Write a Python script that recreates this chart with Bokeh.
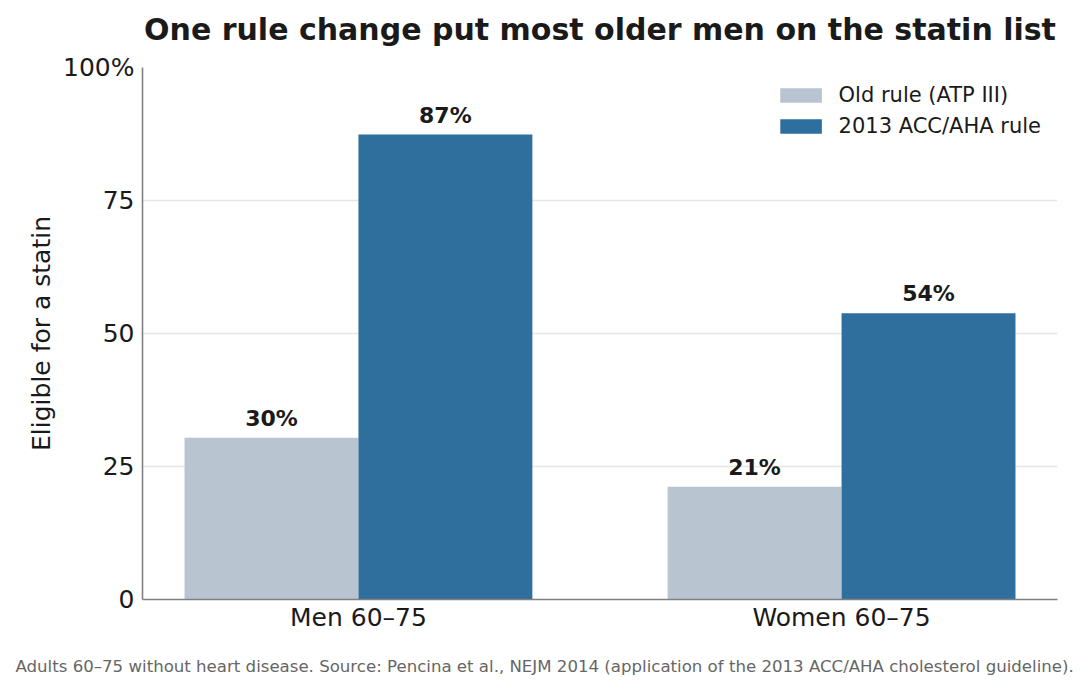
from bokeh.plotting import figure
from bokeh.layouts import column
from bokeh.models import (ColumnDataSource, Range1d, FixedTicker, Legend, LegendItem,
                          LabelSet, Label, Title)
from bokeh.core.properties import value
from bokeh.embed import file_html
from bokeh.resources import INLINE

# Share of adults 60-75 eligible for a statin (%)
groups = ["Men 60–75", "Women 60–75"]
old_rule = [30.4, 21.2]
new_rule = [87.4, 53.8]
series_names = ["Old rule (ATP III)", "2013 ACC/AHA rule"]
y_ticks = [0, 25, 50, 75, 100]
y_tick_labels = ["0", "25", "50", "75", "100%"]
title_text = "One rule change put most older men on the statin list"
note_text = ("Adults 60–75 without heart disease. Source: Pencina et al., NEJM 2014 "
             "(application of the 2013 ACC/AHA cholesterol guideline).")

OLD_COLOR = "#b8c4d0"
NEW_COLOR = "#2e6f9e"
FONT = "DejaVu Sans"
BAR_W = 0.36
W = 1088
LEFT, RIGHT = 142, 31          # side borders shared by every panel of the column
HEAD_H, MAIN_H, FOOT_H = 48, 593, 50


def strip(height, **kw):
    """A bare figure used only to carry free-standing text."""
    f = figure(width=W, height=height, output_backend="svg", toolbar_location=None,
               x_range=Range1d(LEFT, W - RIGHT), y_range=Range1d(0, height),
               min_border_left=LEFT, min_border_right=RIGHT,
               outline_line_color=None, **kw)
    f.axis.visible = False
    f.grid.grid_line_color = None
    return f


# headline
head = strip(HEAD_H, min_border_top=0, min_border_bottom=0)
head.add_layout(Label(x=(LEFT + W - RIGHT) / 2, y=HEAD_H - 29, text=title_text,
                      text_align="center", text_baseline="middle",
                      text_font=FONT, text_font_size="30px", text_font_style="bold",
                      text_color="#1a1a1a"))

# source note
foot = strip(FOOT_H, min_border_top=40, min_border_bottom=0)
foot.title = Title(text=note_text, align="left", offset=15 - LEFT, standoff=11,
                   text_font=FONT, text_font_size="16.6px", text_font_style="normal",
                   text_color="#666666")

xpos = list(range(len(groups)))
src_old = ColumnDataSource(dict(
    x=[i - BAR_W / 2 for i in xpos], top=old_rule,
    label=[f"{v:.0f}%" for v in old_rule]))
src_new = ColumnDataSource(dict(
    x=[i + BAR_W / 2 for i in xpos], top=new_rule,
    label=[f"{v:.0f}%" for v in new_rule]))

p = figure(width=W, height=MAIN_H, output_backend="svg", toolbar_location=None,
           x_range=Range1d(-0.447, 1.447), y_range=Range1d(0, 100),
           min_border_left=LEFT, min_border_right=RIGHT, min_border_top=19,
           min_border_bottom=42)

r_old = p.vbar(x="x", top="top", width=BAR_W, source=src_old,
               fill_color=OLD_COLOR, line_color=None)
r_new = p.vbar(x="x", top="top", width=BAR_W, source=src_new,
               fill_color=NEW_COLOR, line_color=None)

for src in (src_old, src_new):
    p.add_layout(LabelSet(x="x", y="top", text="label", source=src,
                          text_align="center", text_baseline="bottom", y_offset=7,
                          text_font=value(FONT), text_font_size=value("22px"),
                          text_font_style=value("bold"), text_color="#1a1a1a"))

# axes
p.xaxis.ticker = FixedTicker(ticks=xpos)
p.xaxis.major_label_overrides = {i: g for i, g in zip(xpos, groups)}
p.yaxis.ticker = FixedTicker(ticks=y_ticks)
p.yaxis.major_label_overrides = {t: l for t, l in zip(y_ticks, y_tick_labels)}
for ax in (p.xaxis, p.yaxis):
    ax.major_tick_line_color = None
    ax.minor_tick_line_color = None
    ax.axis_line_color = "#808080"
    ax.axis_line_width = 1.6
    ax.major_label_text_font = FONT
    ax.major_label_text_font_size = "25px"
    ax.major_label_text_color = "#1a1a1a"
p.xaxis.major_label_standoff = -3
p.yaxis.major_label_standoff = 2
p.yaxis.axis_label = "Eligible for a statin"
p.yaxis.axis_label_text_font = FONT
p.yaxis.axis_label_text_font_size = "25px"
p.yaxis.axis_label_text_font_style = "normal"
p.yaxis.axis_label_text_color = "#1a1a1a"
p.yaxis.axis_label_standoff = 4

p.xgrid.grid_line_color = None
p.ygrid.grid_line_color = "#e6e6e6"
p.ygrid.grid_line_width = 1.5
p.ygrid.ticker = FixedTicker(ticks=y_ticks[1:])
p.outline_line_color = None

legend = Legend(items=[LegendItem(label=series_names[0], renderers=[r_old]),
                       LegendItem(label=series_names[1], renderers=[r_new])],
                location="top_right", border_line_color=None,
                background_fill_alpha=0, glyph_width=52, glyph_height=18,
                label_height=24, spacing=7, label_standoff=12, margin=16,
                padding=9, label_text_font=FONT, label_text_font_size="21px",
                label_text_color="#1a1a1a")
p.add_layout(legend)

page = column(head, p, foot, spacing=0)
open("out.html", "w").write(file_html(page, INLINE))
